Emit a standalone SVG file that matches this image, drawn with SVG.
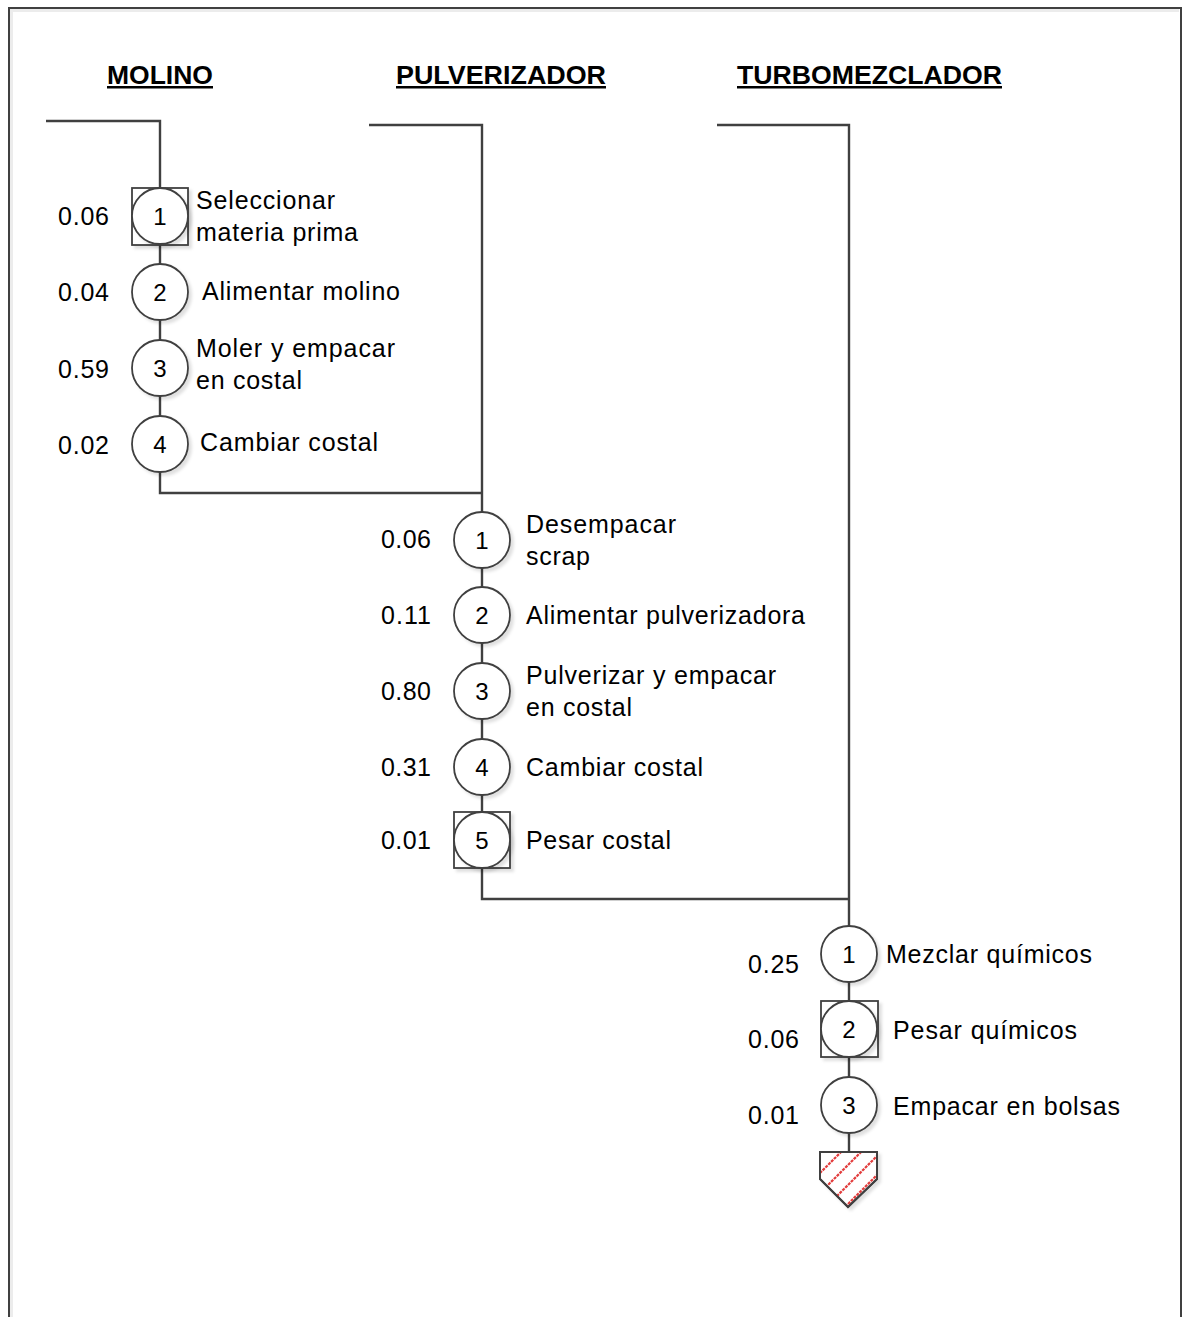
<svg xmlns="http://www.w3.org/2000/svg" width="1184" height="1317" viewBox="0 0 1184 1317">
  <style>
    .frame { fill: none; stroke: #404040; stroke-width: 2; }
    .frame-in { fill: none; stroke: #ececec; stroke-width: 3; }
    .wire { fill: none; stroke: #404040; stroke-width: 2.4; }
    .op { fill: #ffffff; stroke: #404040; stroke-width: 1.8; filter: url(#shade); }
    .insp { fill: #ffffff; stroke: #404040; stroke-width: 1.8; filter: url(#shade); }
    .hdr { font-family: "Liberation Sans", Arial, sans-serif; font-size: 25px; font-weight: bold; fill: #000000; text-decoration: underline; }
    .lbl { font-family: "Liberation Sans", Arial, sans-serif; font-size: 25px; fill: #000000; }
    .num { font-family: "Liberation Sans", Arial, sans-serif; font-size: 24px; fill: #000000; text-anchor: middle; }
    .hatch { stroke: #e23c3c; stroke-width: 2.2; stroke-dasharray: 3 1; }
  </style>
  <defs>
    <filter id="shade" x="-20%" y="-20%" width="150%" height="150%">
      <feDropShadow dx="3" dy="3" stdDeviation="1.5" flood-color="#000000" flood-opacity="0.12"/>
    </filter>
    <clipPath id="storeClip">
      <polygon points="820,1152 877,1152 877,1179 848,1207 820,1179"/>
    </clipPath>
  </defs>

  <rect width="1184" height="1317" fill="#ffffff"/>

  <!-- page frame, open at the bottom -->
  <path class="frame-in" d="M11.5,1317 V10.5 H1179"/>
  <path class="frame" d="M9,1317 V8 H1181 V1317"/>

  <!-- department headers -->
  <g id="headers">
    <text class="hdr" x="107" y="84" textLength="106" lengthAdjust="spacingAndGlyphs">MOLINO</text>
    <text class="hdr" x="396" y="84" textLength="210" lengthAdjust="spacingAndGlyphs">PULVERIZADOR</text>
    <text class="hdr" x="737" y="84" textLength="265" lengthAdjust="spacingAndGlyphs">TURBOMEZCLADOR</text>
  </g>

  <!-- flow lines -->
  <g id="connectors">
    <path class="wire" d="M46,121 H160 V493 H482"/>
    <path class="wire" d="M369,125 H482 V899 H849"/>
    <path class="wire" d="M717,125 H849 V1152"/>
  </g>

  <!-- MOLINO -->
  <g id="m1">
    <rect class="insp" x="132" y="188" width="56" height="57"/>
    <circle class="op" cx="160" cy="216" r="28"/>
    <text class="num" x="160" y="225">1</text>
    <text class="lbl" x="58" y="225" textLength="51" lengthAdjust="spacing">0.06</text>
    <text class="lbl" x="196" y="209" textLength="139" lengthAdjust="spacing">Seleccionar</text>
    <text class="lbl" x="196" y="241" textLength="162" lengthAdjust="spacing">materia prima</text>
  </g>
  <g id="m2">
    <circle class="op" cx="160" cy="292" r="28"/>
    <text class="num" x="160" y="301">2</text>
    <text class="lbl" x="58" y="301" textLength="51" lengthAdjust="spacing">0.04</text>
    <text class="lbl" x="202" y="300" textLength="198" lengthAdjust="spacing">Alimentar molino</text>
  </g>
  <g id="m3">
    <circle class="op" cx="160" cy="368" r="28"/>
    <text class="num" x="160" y="377">3</text>
    <text class="lbl" x="58" y="378" textLength="51" lengthAdjust="spacing">0.59</text>
    <text class="lbl" x="196" y="357" textLength="199" lengthAdjust="spacing">Moler y empacar</text>
    <text class="lbl" x="196" y="389" textLength="106" lengthAdjust="spacing">en costal</text>
  </g>
  <g id="m4">
    <circle class="op" cx="160" cy="444" r="28"/>
    <text class="num" x="160" y="453">4</text>
    <text class="lbl" x="58" y="454" textLength="51" lengthAdjust="spacing">0.02</text>
    <text class="lbl" x="200" y="451" textLength="178" lengthAdjust="spacing">Cambiar costal</text>
  </g>

  <!-- PULVERIZADOR -->
  <g id="p1">
    <circle class="op" cx="482" cy="540" r="28"/>
    <text class="num" x="482" y="549">1</text>
    <text class="lbl" x="381" y="548" textLength="50" lengthAdjust="spacing">0.06</text>
    <text class="lbl" x="526" y="533" textLength="150" lengthAdjust="spacing">Desempacar</text>
    <text class="lbl" x="526" y="565" textLength="64" lengthAdjust="spacing">scrap</text>
  </g>
  <g id="p2">
    <circle class="op" cx="482" cy="615" r="28"/>
    <text class="num" x="482" y="624">2</text>
    <text class="lbl" x="381" y="624" textLength="50" lengthAdjust="spacing">0.11</text>
    <text class="lbl" x="526" y="624" textLength="279" lengthAdjust="spacing">Alimentar pulverizadora</text>
  </g>
  <g id="p3">
    <circle class="op" cx="482" cy="691" r="28"/>
    <text class="num" x="482" y="700">3</text>
    <text class="lbl" x="381" y="700" textLength="50" lengthAdjust="spacing">0.80</text>
    <text class="lbl" x="526" y="684" textLength="250" lengthAdjust="spacing">Pulverizar y empacar</text>
    <text class="lbl" x="526" y="716" textLength="106" lengthAdjust="spacing">en costal</text>
  </g>
  <g id="p4">
    <circle class="op" cx="482" cy="767" r="28"/>
    <text class="num" x="482" y="776">4</text>
    <text class="lbl" x="381" y="776" textLength="50" lengthAdjust="spacing">0.31</text>
    <text class="lbl" x="526" y="776" textLength="177" lengthAdjust="spacing">Cambiar costal</text>
  </g>
  <g id="p5">
    <rect class="insp" x="454" y="812" width="56" height="56"/>
    <circle class="op" cx="482" cy="840" r="28"/>
    <text class="num" x="482" y="849">5</text>
    <text class="lbl" x="381" y="849" textLength="50" lengthAdjust="spacing">0.01</text>
    <text class="lbl" x="526" y="849" textLength="145" lengthAdjust="spacing">Pesar costal</text>
  </g>

  <!-- TURBOMEZCLADOR -->
  <g id="t1">
    <circle class="op" cx="849" cy="954" r="28"/>
    <text class="num" x="849" y="963">1</text>
    <text class="lbl" x="748" y="973" textLength="51" lengthAdjust="spacing">0.25</text>
    <text class="lbl" x="886" y="963" textLength="206" lengthAdjust="spacing">Mezclar químicos</text>
  </g>
  <g id="t2">
    <rect class="insp" x="821" y="1001" width="57" height="56"/>
    <circle class="op" cx="849" cy="1029" r="28"/>
    <text class="num" x="849" y="1038">2</text>
    <text class="lbl" x="748" y="1048" textLength="51" lengthAdjust="spacing">0.06</text>
    <text class="lbl" x="893" y="1039" textLength="184" lengthAdjust="spacing">Pesar químicos</text>
  </g>
  <g id="t3">
    <circle class="op" cx="849" cy="1105" r="28"/>
    <text class="num" x="849" y="1114">3</text>
    <text class="lbl" x="748" y="1124" textLength="51" lengthAdjust="spacing">0.01</text>
    <text class="lbl" x="893" y="1115" textLength="227" lengthAdjust="spacing">Empacar en bolsas</text>
  </g>

  <!-- storage symbol with diagonal red hatching -->
  <g id="storage">
    <polygon class="op" points="820,1152 877,1152 877,1179 848,1207 820,1179"/>
    <g clip-path="url(#storeClip)">
      <line class="hatch" x1="800" y1="1193" x2="900" y2="1093"/>
      <line class="hatch" x1="800" y1="1213" x2="900" y2="1113"/>
      <line class="hatch" x1="800" y1="1233" x2="900" y2="1133"/>
      <line class="hatch" x1="800" y1="1252" x2="900" y2="1152"/>
    </g>
    <polygon points="820,1152 877,1152 877,1179 848,1207 820,1179" fill="none" stroke="#404040" stroke-width="2"/>
  </g>
</svg>
